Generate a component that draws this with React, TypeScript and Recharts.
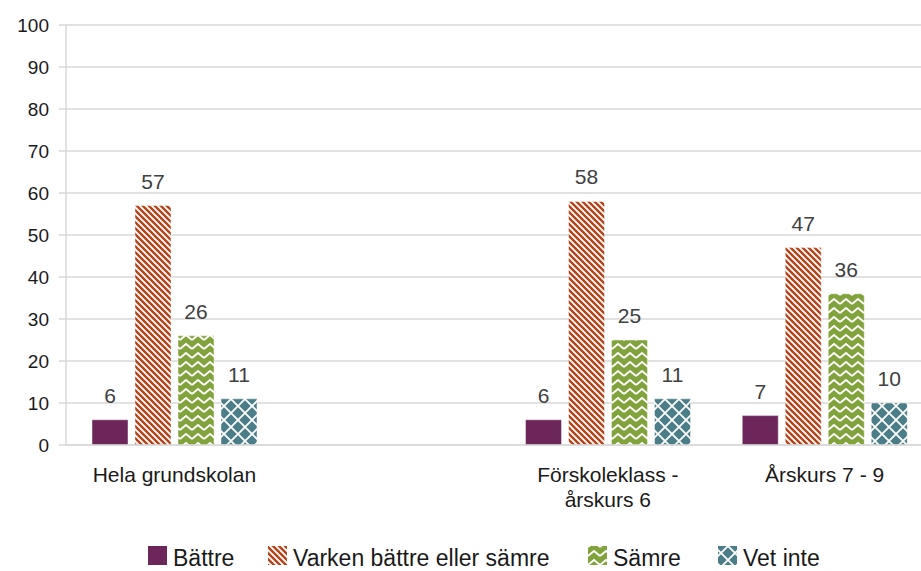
import React from 'react';
import { BarChart, Bar, XAxis, YAxis, CartesianGrid, LabelList } from 'recharts';

const groups = ['Hela grundskolan', '', 'Förskoleklass - årskurs 6', 'Årskurs 7 - 9'];
const groupLines: Record<string, string[]> = {
  'Förskoleklass - årskurs 6': ['Förskoleklass -', 'årskurs 6'],
};
const battre = [6, null, 6, 7];
const varken = [57, null, 58, 47];
const samre = [26, null, 25, 36];
const vetInte = [11, null, 11, 10];
const yTicks = [0, 10, 20, 30, 40, 50, 60, 70, 80, 90, 100];

const seriesNames = ['Bättre', 'Varken bättre eller sämre', 'Sämre', 'Vet inte'];

const data = groups.map((g, i) => ({
  group: g,
  battre: battre[i],
  varken: varken[i],
  samre: samre[i],
  vetInte: vetInte[i],
}));

const FONT = 'Liberation Sans, Arial, sans-serif';

const series = [
  { key: 'battre', name: seriesNames[0], fill: '#6c2659' },
  { key: 'varken', name: seriesNames[1], fill: 'url(#pVarken)' },
  { key: 'samre', name: seriesNames[2], fill: 'url(#pSamre)' },
  { key: 'vetInte', name: seriesNames[3], fill: 'url(#pVet)' },
];

const ValueLabel = (props: any) => {
  const { x, y, width, value } = props;
  if (value === null || value === undefined) return null;
  return (
    <text x={x + width / 2} y={y - 17} textAnchor="middle" fill="#404040" fontSize={21} fontFamily={FONT}>
      {value}
    </text>
  );
};

const GroupTick = (props: any) => {
  const { x, y, payload } = props;
  const lines = groupLines[payload.value] || [payload.value];
  return (
    <text x={x} y={y} textAnchor="middle" fill="#1a1a1a" fontSize={21} fontFamily={FONT}>
      {lines.map((l: string, i: number) => (
        <tspan key={i} x={x} y={y + 37 + i * 25}>{l}</tspan>
      ))}
    </text>
  );
};

// fill patterns for the hatched series
const Patterns = () => (
  <defs>
    <pattern id="pVarken" patternUnits="userSpaceOnUse" width="6" height="6">
      <rect width="6" height="6" fill="#b5441b" />
      <path d="M0,0 L6,6 M-1,5 L1,7 M5,-1 L7,1" stroke="#ffffff" strokeWidth="1.8" />
    </pattern>
    <pattern id="pSamre" patternUnits="userSpaceOnUse" width="12" height="9">
      <rect width="12" height="9" fill="#80a33b" />
      <path d="M0,7 L6,2 L12,7" stroke="#ffffff" strokeWidth="1.8" fill="none" />
    </pattern>
    <pattern id="pVet" patternUnits="userSpaceOnUse" width="14" height="14">
      <rect width="14" height="14" fill="#4b7e88" />
      <path d="M0,0 L14,14 M14,0 L0,14" stroke="#ffffff" strokeWidth="1.8" />
    </pattern>
  </defs>
);

const legendX = [148, 268, 588, 718];

export default function App() {
  return (
    <div style={{ position: 'absolute', left: 0, top: 0, width: 921, height: 571, overflow: 'hidden', background: '#fff' }}>
      <BarChart
        width={933}
        height={571}
        data={data}
        margin={{ top: 25, right: 0, bottom: 66, left: 0 }}
        barSize={36}
        barGap={7}
      >
        <CartesianGrid vertical={false} stroke="#d9d9d9" strokeWidth={1.5} />
        <XAxis
          dataKey="group"
          height={60}
          tickLine={false}
          tickSize={0}
          tickMargin={0}
          axisLine={{ stroke: '#d9d9d9', strokeWidth: 1.5 }}
          tick={<GroupTick />}
          interval={0}
        />
        <YAxis
          width={66}
          domain={[0, 100]}
          ticks={yTicks}
          tickSize={7}
          tickMargin={10}
          tickLine={{ stroke: '#d9d9d9', strokeWidth: 1.5 }}
          axisLine={{ stroke: '#d9d9d9', strokeWidth: 1.5 }}
          tick={{ fill: '#1a1a1a', fontSize: 19, fontFamily: FONT }}
          interval={0}
        />
        {series.map((s) => (
          <Bar
            key={s.key}
            dataKey={s.key}
            name={s.name}
            fill={s.fill}
            stroke="#ffffff"
            strokeOpacity={0.45}
            strokeWidth={1}
            isAnimationActive={false}
          >
            <LabelList dataKey={s.key} content={<ValueLabel />} />
          </Bar>
        ))}
      </BarChart>
      <svg width={921} height={571} style={{ position: 'absolute', left: 0, top: 0, pointerEvents: 'none' }}>
        <Patterns />
        {series.map((s, i) => (
          <g key={s.key}>
            <rect x={legendX[i]} y={546} width={19} height={19} fill={s.fill} />
            <text x={legendX[i] + 25} y={566} fontSize={23} fill="#1a1a1a" fontFamily={FONT}>
              {s.name}
            </text>
          </g>
        ))}
      </svg>
    </div>
  );
}
